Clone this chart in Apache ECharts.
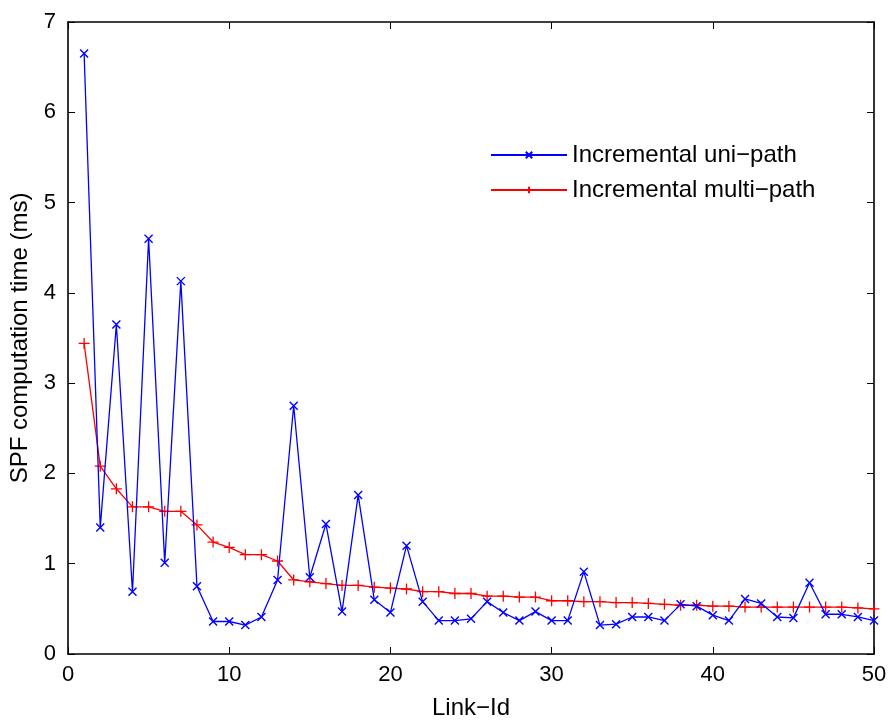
<!DOCTYPE html>
<html><head><meta charset="utf-8">
<script src="https://cdn.jsdelivr.net/npm/echarts@6/dist/echarts.min.js"></script>
<style>html,body{margin:0;padding:0;background:#fff}#c{width:889px;height:720px}</style>
</head><body><div id="c"></div>
<script>
var linkIds = [1,2,3,4,5,6,7,8,9,10,11,12,13,14,15,16,17,18,19,20,21,22,23,24,25,26,27,28,29,30,31,32,33,34,35,36,37,38,39,40,41,42,43,44,45,46,47,48,49,50];
var uniPath = [6.65,1.40,3.65,0.69,4.60,1.01,4.13,0.75,0.36,0.36,0.32,0.41,0.82,2.75,0.85,1.44,0.47,1.76,0.60,0.46,1.20,0.58,0.37,0.37,0.39,0.58,0.46,0.37,0.47,0.37,0.37,0.91,0.32,0.33,0.41,0.41,0.37,0.55,0.53,0.43,0.37,0.61,0.56,0.41,0.40,0.79,0.44,0.44,0.41,0.37];
var multiPath = [3.44,2.08,1.83,1.63,1.63,1.58,1.58,1.43,1.24,1.18,1.10,1.10,1.03,0.82,0.80,0.78,0.76,0.76,0.74,0.73,0.72,0.69,0.69,0.67,0.67,0.64,0.64,0.63,0.63,0.59,0.59,0.58,0.58,0.57,0.57,0.56,0.55,0.54,0.54,0.53,0.53,0.52,0.52,0.52,0.52,0.52,0.52,0.52,0.51,0.50];
var seriesNames = ['Incremental uni\u2212path','Incremental multi\u2212path'];

var FONT = 'Liberation Sans';
var chart = echarts.init(document.getElementById('c'), null, {renderer:'canvas'});
function pairs(v){ return linkIds.map(function(x,i){return [x,v[i]];}); }
var xMark = 'path://M0,0L10,10M10,0L0,10';
var plusMark = 'path://M5,0L5,10M0,5L10,5';
var axisCommon = {
  axisLine:{show:true, onZero:false, lineStyle:{color:'#000', width:1.6}},
  axisTick:{show:true, inside:true, length:7, lineStyle:{color:'#000', width:1}},
  splitLine:{show:false}
};
chart.setOption({
  animation:false,
  backgroundColor:'#fff',
  textStyle:{fontFamily:FONT},
  grid:{left:68, right:15, top:22, bottom:66, show:false, containLabel:false, outerBoundsMode:'none'},
  legend:{
    show:true, orient:'vertical', left:485, top:138, itemWidth:76, itemHeight:8, itemGap:11,
    textStyle:{fontFamily:FONT, fontSize:24, color:'#000'},
    data:seriesNames
  },
  xAxis:[
    Object.assign({type:'value', min:0, max:50, interval:10, position:'bottom',
      name:'Link\u2212Id', nameLocation:'middle', nameGap:42,
      nameTextStyle:{fontFamily:FONT, fontSize:24, color:'#000'},
      axisLabel:{fontFamily:FONT, fontSize:22, color:'#000', margin:10}}, axisCommon),
    Object.assign({type:'value', min:0, max:50, interval:10, position:'top',
      axisLabel:{show:false}}, axisCommon)
  ],
  yAxis:[
    Object.assign({type:'value', min:0, max:7, interval:1, position:'left',
      name:'SPF computation time (ms)', nameLocation:'middle', nameGap:32,
      nameTextStyle:{fontFamily:FONT, fontSize:24, color:'#000'},
      axisLabel:{fontFamily:FONT, fontSize:22, color:'#000', margin:12}}, axisCommon),
    Object.assign({type:'value', min:0, max:7, interval:1, position:'right',
      axisLabel:{show:false}}, axisCommon)
  ],
  series:[
    {name:seriesNames[0], type:'line', data:pairs(uniPath), xAxisIndex:0, yAxisIndex:0,
     symbol:xMark, symbolSize:8, showAllSymbol:true,
     lineStyle:{color:'#0000ff', width:1.3},
     itemStyle:{color:'#0000ff', borderColor:'#0000ff', borderWidth:1.4}, z:3},
    {name:seriesNames[1], type:'line', data:pairs(multiPath), xAxisIndex:0, yAxisIndex:0,
     symbol:plusMark, symbolSize:11, showAllSymbol:true,
     lineStyle:{color:'#ff0000', width:1.3},
     itemStyle:{color:'#ff0000', borderColor:'#ff0000', borderWidth:1.3}, z:2}
  ]
});
</script></body></html>
